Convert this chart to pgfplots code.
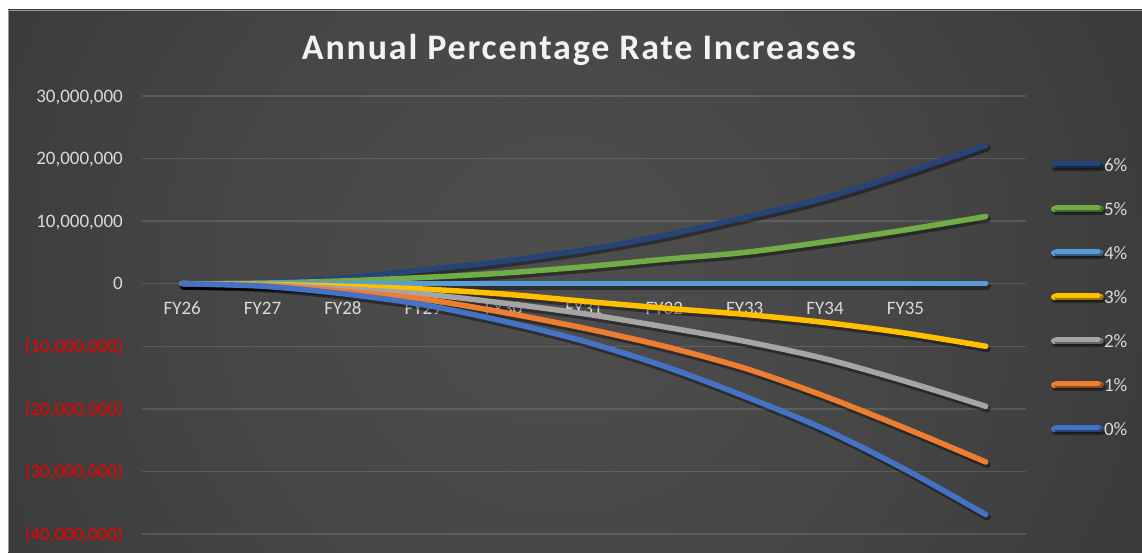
\documentclass[border=0pt]{standalone}
\usepackage{pgfplots}
\pgfplotsset{compat=1.18}
\usepackage{pgfplotstable}
\usepackage{fontspec}
\setmainfont{Carlito}
\newfontfamily\titlefont[LetterSpace=5.0]{Carlito}

\definecolor{c0}{HTML}{4472C4}
\definecolor{c1}{HTML}{ED7D31}
\definecolor{c2}{HTML}{A5A5A5}
\definecolor{c3}{HTML}{FFC000}
\definecolor{c4}{HTML}{5B9BD5}
\definecolor{c5}{HTML}{70AD47}
\definecolor{c6}{HTML}{264478}
\definecolor{tickc}{HTML}{D9D9D9}
\definecolor{negc}{HTML}{F00000}
\definecolor{bgA}{HTML}{4E4E4E}
\definecolor{bgB}{HTML}{464646}
\definecolor{bgC}{HTML}{383838}
\definecolor{bgD}{HTML}{2C2C2C}
\definecolor{bgE}{HTML}{262626}

\pgfdeclareradialshading{bgshade}{\pgfpoint{0bp}{0bp}}{color(0bp)=(bgA); color(12bp)=(bgB); color(25bp)=(bgC); color(38bp)=(bgD); color(50bp)=(bgE)}

\pgfplotstableread{
x  p6        p5        p4  p3         p2         p1         p0
0  0         0         0   0          0          0          0
1  200000    100000    0   -100000    -200000    -300000    -400000
2  900000    450000    0   -400000    -800000    -1200000   -1600000
3  2200000   1000000   0   -850000    -1650000   -2450000   -3350000
4  3600000   1700000   0   -1650000   -3100000   -4600000   -6000000
5  5400000   2700000   0   -2800000   -4800000   -7100000   -9200000
6  7700000   3900000   0   -3900000   -6900000   -10000000  -13200000
7  10600000  5000000   0   -4900000   -9200000   -13500000  -18000000
8  13700000  6700000   0   -6200000   -12000000  -18000000  -23300000
9  17700000  8600000   0   -7900000   -15600000  -23100000  -29700000
10 22100000  10750000  0   -10000000  -19600000  -28500000  -36900000
}\datatable

\begin{document}
\begin{tikzpicture}
\path[use as bounding box] (0pt,0pt) rectangle (1142pt,552pt);
\fill[white] (0pt,0pt) rectangle (1142pt,552pt);
\begin{scope}
\clip (8pt,0pt) rectangle (1142pt,542pt);
\shade[shading=bgshade] (-140pt,-430pt) rectangle (1260pt,970pt);
\end{scope}
\draw[black!40, line width=0.8pt] (8pt,0pt) -- (8pt,542pt) -- (1142pt,542pt);

\node[anchor=base, text=white!95!black, font=\titlefont\bfseries\fontsize{36}{40}\selectfont] at (579pt,492pt) {Annual Percentage Rate Increases};

\begin{axis}[
  at={(142pt,18pt)}, anchor=south west,
  scale only axis, width=884pt, height=438pt,
  xmin=-0.5, xmax=10.5,
  ymin=-40000000, ymax=30000000,
  axis line style={draw=none},
  tick style={draw=none},
  scaled y ticks=false,
  xtick={0,1,2,3,4,5,6,7,8,9},
  xticklabels={FY26,FY27,FY28,FY29,FY30,FY31,FY32,FY33,FY34,FY35},
  ytick={-40000000,-30000000,-20000000,-10000000,0,10000000,20000000,30000000},
  yticklabels={\textcolor{negc}{(40,000,000)},\textcolor{negc}{(30,000,000)},\textcolor{negc}{(20,000,000)},\textcolor{negc}{(10,000,000)},0,{10,000,000},{20,000,000},{30,000,000}},
  ymajorgrids,
  major grid style={line width=1.3pt, white, opacity=0.12},
  xticklabel style={anchor=base, yshift=219pt, text=tickc, inner sep=0pt, font=\fontsize{19}{22}\selectfont},
  yticklabel style={anchor=east, xshift=-19pt, text=tickc, inner sep=0pt, text height=12.5pt, text depth=0pt, font=\fontsize{19}{22}\selectfont},
  every axis plot/.append style={line width=5.5pt, smooth, tension=0.5, line cap=round, line join=round, no markers,
     preaction={draw=black, opacity=0.4, line width=7pt, transform canvas={xshift=1.5pt, yshift=-2.5pt}}},
  legend image code/.code={\path (0pt,0pt) -- (47pt,0pt); \draw[#1, line cap=round] (2.75pt,1.5pt) -- (44.25pt,1.5pt);},
  legend cell align=left,
  legend style={at={(axis description cs:1.0283,0.858)}, anchor=north west, draw=none, fill=none, inner sep=0pt, outer sep=0pt,
     row sep=30.5pt, font=\fontsize{19}{22}\selectfont, text=tickc,
     nodes={inner sep=0.5pt, text height=12.5pt, text depth=0pt}},
]
\addplot[c6] table[x=x, y=p6] {\datatable};
\addlegendentry{6\%}
\addplot[c5] table[x=x, y=p5] {\datatable};
\addlegendentry{5\%}
\addplot[c4] table[x=x, y=p4] {\datatable};
\addlegendentry{4\%}
\addplot[c3] table[x=x, y=p3] {\datatable};
\addlegendentry{3\%}
\addplot[c2] table[x=x, y=p2] {\datatable};
\addlegendentry{2\%}
\addplot[c1] table[x=x, y=p1] {\datatable};
\addlegendentry{1\%}
\addplot[c0] table[x=x, y=p0] {\datatable};
\addlegendentry{0\%}
\end{axis}
\end{tikzpicture}
\end{document}
